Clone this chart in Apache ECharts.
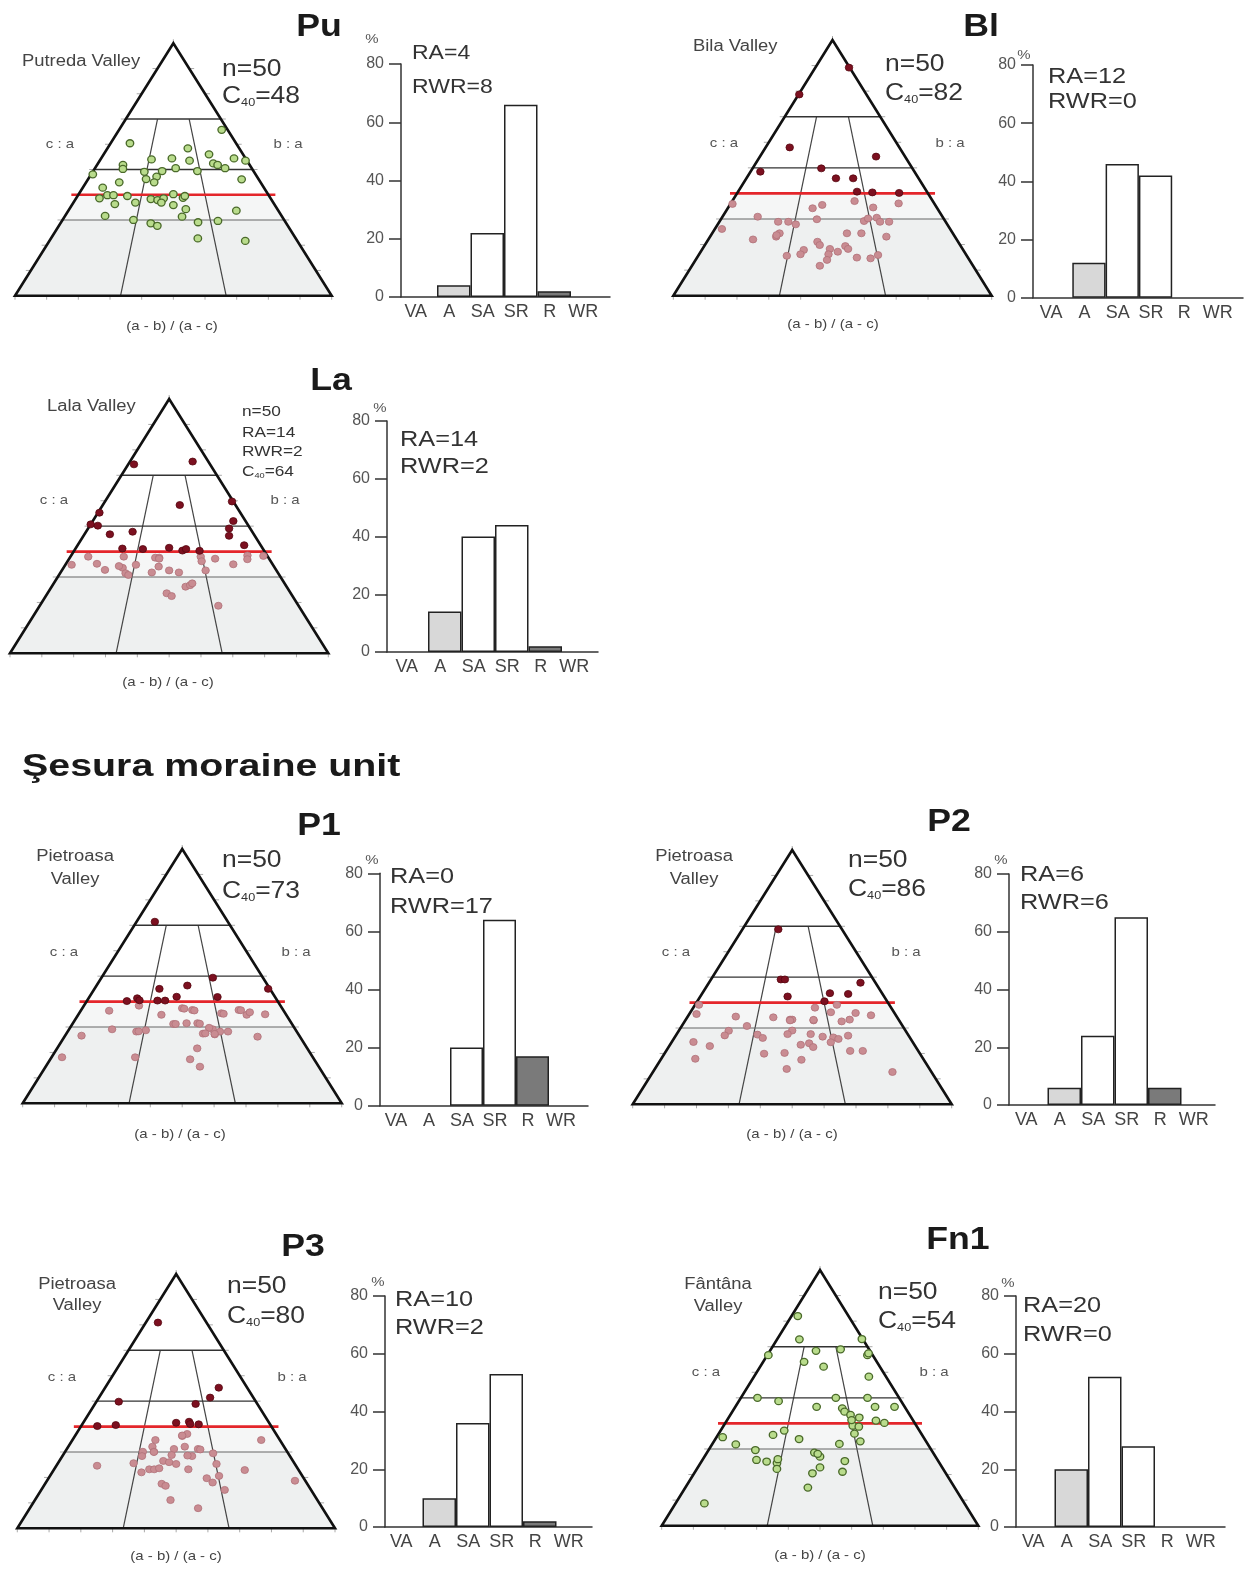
<!DOCTYPE html>
<html>
<head>
<meta charset="utf-8">
<script src="https://cdn.jsdelivr.net/npm/echarts@6/dist/echarts.min.js"></script>
<style>html,body{margin:0;padding:0;background:#fff}#c{width:1247px;height:1569px}</style>
</head>
<body>
<div id="c"></div>
<script>
// ---------- DATA ----------
const categories = ['VA', 'A', 'SA', 'SR', 'R', 'WR'];
const yTicks = [0, 20, 40, 60, 80];

const puBars = [0, 4, 22, 66, 2, 0];
const blBars = [0, 12, 46, 42, 0, 0];
const laBars = [0, 14, 40, 44, 2, 0];
const p1Bars = [0, 0, 20, 64, 17, 0];
const p2Bars = [0, 6, 24, 65, 6, 0];
const p3Bars = [0, 10, 36, 53, 2, 0];
const fn1Bars = [0, 20, 52, 28, 0, 0];

// clast points: [(a-b)/(a-c), c/a]
const puPoints = [[0.945,0.657],[0.154,0.604],[0.61,0.584],[0.756,0.56],[0.35,0.54],[0.49,0.544],[0.61,0.535],[0.765,0.524],[0.79,0.518],[0.92,0.544],[0.99,0.535],[0.17,0.518],[0.18,0.502],[0.515,0.505],[0.65,0.494],[0.83,0.505],[0.01,0.481],[0.32,0.491],[0.43,0.494],[0.40,0.472],[0.34,0.462],[0.39,0.449],[0.19,0.449],[0.90,0.461],[0.11,0.428],[0.154,0.398],[0.186,0.398],[0.12,0.386],[0.26,0.395],[0.21,0.363],[0.31,0.369],[0.385,0.383],[0.42,0.379],[0.45,0.386],[0.44,0.369],[0.50,0.402],[0.55,0.388],[0.50,0.359],[0.56,0.343],[0.80,0.337],[0.185,0.316],[0.54,0.313],[0.32,0.30],[0.61,0.291],[0.70,0.296],[0.40,0.287],[0.43,0.277],[0.60,0.227],[0.79,0.217],[0.56,0.395]];
const blPoints = [[0.98,0.892],[0.01,0.787],[0.18,0.58],[0.80,0.544],[0.06,0.485],[0.43,0.498],[0.52,0.459],[0.62,0.459],[0.63,0.407],[0.71,0.404],[0.85,0.402],[0.01,0.359],[0.405,0.342],[0.45,0.355],[0.61,0.37],[0.695,0.345],[0.825,0.361],[0.16,0.309],[0.26,0.289],[0.305,0.289],[0.34,0.279],[0.43,0.299],[0.64,0.292],[0.66,0.302],[0.70,0.305],[0.71,0.289],[0.75,0.289],[0.03,0.261],[0.18,0.22],[0.27,0.231],[0.28,0.244],[0.56,0.244],[0.62,0.244],[0.72,0.231],[0.44,0.211],[0.45,0.198],[0.49,0.183],[0.55,0.194],[0.56,0.183],[0.39,0.179],[0.38,0.162],[0.33,0.156],[0.485,0.162],[0.48,0.14],[0.455,0.117],[0.59,0.149],[0.64,0.146],[0.67,0.159],[0.52,0.172],[0.27,0.237]];
const laPoints = [[0.07,0.743],[0.80,0.754],[0.58,0.583],[0.99,0.597],[0.01,0.553],[0.0,0.507],[0.05,0.502],[0.92,0.52],[0.87,0.491],[0.85,0.462],[0.28,0.478],[0.15,0.468],[0.91,0.425],[0.25,0.412],[0.36,0.41],[0.50,0.415],[0.57,0.404],[0.59,0.41],[0.66,0.403],[0.09,0.38],[0.03,0.348],[0.15,0.352],[0.20,0.328],[0.27,0.38],[0.28,0.336],[0.30,0.315],[0.315,0.308],[0.34,0.348],[0.43,0.376],[0.45,0.376],[0.45,0.341],[0.42,0.318],[0.50,0.326],[0.545,0.318],[0.66,0.38],[0.66,0.362],[0.73,0.372],[0.67,0.326],[0.81,0.35],[0.90,0.385],[0.89,0.37],[0.98,0.383],[0.57,0.262],[0.59,0.268],[0.60,0.275],[0.49,0.236],[0.51,0.225],[0.69,0.187],[0.26,0.343],[0.45,0.372]];
const p1Points = [[0.20,0.714],[0.69,0.494],[0.37,0.45],[0.53,0.463],[0.99,0.45],[0.26,0.413],[0.21,0.402],[0.275,0.405],[0.37,0.404],[0.41,0.404],[0.47,0.419],[0.69,0.418],[0.28,0.384],[0.14,0.364],[0.40,0.348],[0.50,0.374],[0.55,0.367],[0.69,0.354],[0.78,0.367],[0.81,0.348],[0.83,0.358],[0.90,0.35],[0.46,0.312],[0.52,0.315],[0.57,0.315],[0.07,0.266],[0.19,0.291],[0.30,0.282],[0.34,0.287],[0.59,0.274],[0.635,0.291],[0.64,0.271],[0.665,0.282],[0.70,0.282],[0.82,0.262],[0.56,0.216],[0.53,0.173],[0.565,0.144],[0.04,0.181],[0.32,0.181],[0.62,0.297],[0.51,0.372],[0.56,0.365],[0.70,0.352],[0.47,0.312],[0.58,0.313],[0.60,0.275],[0.64,0.273],[0.31,0.283],[0.79,0.366]];
const p2Points = [[0.36,0.688],[0.43,0.491],[0.455,0.491],[0.91,0.478],[0.71,0.437],[0.81,0.434],[0.475,0.424],[0.67,0.405],[0.02,0.391],[0.035,0.355],[0.615,0.38],[0.73,0.391],[0.23,0.345],[0.41,0.342],[0.49,0.333],[0.50,0.333],[0.60,0.33],[0.69,0.362],[0.73,0.326],[0.77,0.333],[0.81,0.359],[0.88,0.35],[0.295,0.308],[0.22,0.289],[0.21,0.271],[0.35,0.274],[0.375,0.261],[0.50,0.29],[0.48,0.276],[0.58,0.276],[0.63,0.266],[0.675,0.263],[0.695,0.257],[0.66,0.244],[0.74,0.27],[0.09,0.245],[0.165,0.229],[0.13,0.179],[0.39,0.199],[0.47,0.202],[0.535,0.234],[0.57,0.24],[0.585,0.225],[0.535,0.175],[0.48,0.139],[0.73,0.21],[0.78,0.21],[0.86,0.127],[0.49,0.33],[0.60,0.332]];
const p3Points = [[0.20,0.809],[0.80,0.553],[0.72,0.514],[0.62,0.489],[0.14,0.498],[0.085,0.402],[0.18,0.406],[0.50,0.415],[0.57,0.419],[0.575,0.41],[0.62,0.409],[0.53,0.363],[0.555,0.371],[0.40,0.347],[0.91,0.347],[0.39,0.321],[0.49,0.312],[0.54,0.321],[0.60,0.312],[0.35,0.301],[0.40,0.301],[0.48,0.288],[0.57,0.284],[0.665,0.295],[0.35,0.284],[0.32,0.256],[0.445,0.265],[0.47,0.26],[0.50,0.253],[0.17,0.246],[0.67,0.253],[0.39,0.232],[0.41,0.232],[0.43,0.236],[0.36,0.22],[0.55,0.232],[0.78,0.229],[0.67,0.206],[0.62,0.197],[0.64,0.18],[0.68,0.151],[0.445,0.175],[0.46,0.167],[0.48,0.111],[0.575,0.079],[0.96,0.187],[0.53,0.365],[0.61,0.31],[0.40,0.30],[0.55,0.286]];
const fn1Points = [[0.11,0.82],[0.26,0.729],[0.99,0.73],[0.01,0.667],[0.46,0.684],[0.71,0.69],[0.95,0.667],[0.97,0.674],[0.36,0.641],[0.53,0.622],[0.87,0.583],[0.105,0.50],[0.245,0.487],[0.60,0.50],[0.80,0.50],[0.48,0.465],[0.63,0.459],[0.64,0.446],[0.67,0.433],[0.825,0.465],[0.94,0.465],[0.715,0.423],[0.80,0.411],[0.84,0.402],[0.67,0.391],[0.70,0.387],[0.32,0.372],[0.27,0.355],[0.03,0.346],[0.40,0.339],[0.67,0.36],[0.69,0.33],[0.11,0.318],[0.59,0.32],[0.21,0.296],[0.23,0.257],[0.275,0.251],[0.32,0.245],[0.32,0.26],[0.325,0.222],[0.475,0.286],[0.50,0.27],[0.605,0.253],[0.59,0.211],[0.50,0.228],[0.47,0.205],[0.455,0.149],[0.10,0.087],[0.49,0.281],[0.67,0.413]];

// ---------- LAYOUT ----------
const F = "'Liberation Sans', Arial, Helvetica, sans-serif";
const SX = 1.15; // the figure is horizontally stretched
const panels = [
  {title:'Pu', tp:[319,27], pts:puPoints, bars:puBars, green:true, ra:'RA=4', rwr:'RWR=8', c40:'48', raSize:20,
   valley:['Putreda Valley'], vx:22, vy:[62], vAlign:'left', nx:222, ny:[70,96.5],
   tri:{l:15,r:331.7,t:43.3,b:295.7}, ca:[60,144], ba:[288,144], lab:[172,326],
   bar:{axis:401,top:64,bottom:297,start:403.5,end:610,cw:33.5}, rax:412, ray:[53,87], pct:[372,39]},
  {title:'Bl', tp:[981,27], pts:blPoints, bars:blBars, green:false, ra:'RA=12', rwr:'RWR=0', c40:'82', raSize:22,
   valley:['Bila Valley'], vx:693, vy:[47], vAlign:'left', nx:885, ny:[65,94],
   tri:{l:673.3,r:991.7,t:40,b:295.7}, ca:[724,143], ba:[950,143], lab:[833,324],
   bar:{axis:1033,top:65,bottom:297.7,start:1039,end:1243,cw:33.3}, rax:1048, ray:[76.7,101.7], pct:[1024,55]},
  {title:'La', tp:[331,381], pts:laPoints, bars:laBars, green:false, ra:'RA=14', rwr:'RWR=2', c40:'64', small:true, raSize:22,
   valley:['Lala Valley'], vx:47, vy:[407], vAlign:'left', nx:242, ny:[412,433,452,472],
   tri:{l:10,r:328.3,t:399,b:653.3}, ca:[54,500], ba:[285,500], lab:[168,682],
   bar:{axis:387,top:421,bottom:652,start:394.5,end:598,cw:33.5}, rax:400, ray:[440,467], pct:[380,408]},
  {title:'P1', tp:[319,826], pts:p1Points, bars:p1Bars, green:false, ra:'RA=0', rwr:'RWR=17', c40:'73', raSize:22,
   valley:['Pietroasa','Valley'], vx:75, vy:[857,880], vAlign:'center', nx:222, ny:[861,892],
   tri:{l:22.7,r:341.7,t:849,b:1103.3}, ca:[64,952], ba:[296,952], lab:[180,1134],
   bar:{axis:380,top:873.3,bottom:1105.7,start:384,end:588,cw:33}, rax:390, ray:[877,907], pct:[372,860]},
  {title:'P2', tp:[949,822], pts:p2Points, bars:p2Bars, green:false, ra:'RA=6', rwr:'RWR=6', c40:'86', raSize:22,
   valley:['Pietroasa','Valley'], vx:694, vy:[857,880], vAlign:'center', nx:848, ny:[861,890],
   tri:{l:632.7,r:951.7,t:850,b:1104.3}, ca:[676,952], ba:[906,952], lab:[792,1134],
   bar:{axis:1009,top:874,bottom:1105,start:1014,end:1215,cw:33.5}, rax:1020, ray:[875,903], pct:[1001,860]},
  {title:'P3', tp:[303,1247], pts:p3Points, bars:p3Bars, green:false, ra:'RA=10', rwr:'RWR=2', c40:'80', raSize:22,
   valley:['Pietroasa','Valley'], vx:77, vy:[1285,1306], vAlign:'center', nx:227, ny:[1287,1317],
   tri:{l:17.3,r:335,t:1274,b:1528.3}, ca:[62,1377], ba:[292,1377], lab:[176,1556],
   bar:{axis:385,top:1296,bottom:1527,start:389,end:592,cw:33.5}, rax:395, ray:[1300,1328], pct:[378,1282]},
  {title:'Fn1', tp:[958,1240], pts:fn1Points, bars:fn1Bars, green:true, ra:'RA=20', rwr:'RWR=0', c40:'54', raSize:22,
   valley:['Fântâna','Valley'], vx:718, vy:[1285,1307], vAlign:'center', nx:878, ny:[1293,1322],
   tri:{l:661.7,r:978.3,t:1270,b:1525.7}, ca:[706,1372], ba:[934,1372], lab:[820,1555],
   bar:{axis:1016,top:1296,bottom:1527,start:1021,end:1225,cw:33.5}, rax:1023, ray:[1306,1335], pct:[1008,1283]}
];

// ---------- BUILD ----------
const toPlane = ([t, ca]) => [ca / 2 + t * (1 - ca), ca];

function triFrame(params, api) {
  const P = (t, ca) => api.coord([ca / 2 + t * (1 - ca), ca]);
  const poly = (pts, style) => ({ type: 'polygon', shape: { points: pts }, style });
  const line = (a, b, stroke, w) => ({ type: 'line', shape: { x1: a[0], y1: a[1], x2: b[0], y2: b[1] }, style: { stroke, lineWidth: w } });
  const ch = [];
  ch.push(poly([P(0, 0.4), P(1, 0.4), P(1, 0), P(0, 0)], { fill: '#f5f6f6' }));
  ch.push(poly([P(0, 0.3), P(1, 0.3), P(1, 0), P(0, 0)], { fill: '#eef0f0' }));
  for (let k = 0; k <= 10; k++) {
    const b = P(k / 10, 0); ch.push(line(b, [b[0], b[1] + 4], '#aaa', 1));
    if (k > 0 && k < 10) {
      const l = P(0, k / 10); ch.push(line(l, [l[0] - 5, l[1]], '#aaa', 1));
      const r = P(1, k / 10); ch.push(line(r, [r[0] + 5, r[1]], '#aaa', 1));
    }
  }
  const ap = P(0, 1); ch.push(line(ap, [ap[0], ap[1] - 4], '#aaa', 1));
  [1 / 3, 2 / 3].forEach(t => ch.push(line(P(t, 0.7), P(t, 0), '#444', 1.2)));
  ch.push(line(P(0, 0.7), P(1, 0.7), '#333', 1.4));
  ch.push(line(P(0, 0.5), P(1, 0.5), '#333', 1.4));
  ch.push(line(P(0, 0.3), P(1, 0.3), '#666', 1.2));
  const a = P(0, 0.4), b = P(1, 0.4);
  ch.push(line([a[0] - 7, a[1]], [b[0] + 7, b[1]], '#e4262b', 2.6));
  ch.push({ type: 'polygon', shape: { points: [P(0, 0), P(0, 1), P(1, 0)] }, style: { fill: 'none', stroke: '#111', lineWidth: 2.6, lineJoin: 'miter' } });
  return { type: 'group', children: ch };
}

const barFill = { VA: '#ffffff', A: '#d8d8d8', SA: '#ffffff', SR: '#ffffff', R: '#7a7a7a', WR: '#555555' };

const option = { animation: false, backgroundColor: '#ffffff', grid: [], xAxis: [], yAxis: [], series: [], graphic: { elements: [] } };
const G = option.graphic.elements;
const txt = (x, y, text, size, color, align, weight, sx) => G.push({ type: 'text', x, y, scaleX: sx || SX, silent: true,
  style: { text, fontSize: size, fontFamily: F, fontWeight: weight || 'normal', fill: color, align: align || 'left', verticalAlign: 'middle' } });
const c40 = (x, y, val, size, sub) => G.push({ type: 'text', x, y, scaleX: SX, silent: true,
  style: { text: '{m|C}{s|40}{m|=' + val + '}', align: 'left', verticalAlign: 'middle',
    rich: { m: { fontSize: size, fontFamily: F, fill: '#333', color: '#333' },
            s: { fontSize: sub, fontFamily: F, fill: '#333', color: '#333', verticalAlign: 'bottom' } } } });

panels.forEach((p, i) => {
  const gt = 2 * i, gb = 2 * i + 1;
  // triangle grid
  option.grid.push({ left: p.tri.l, top: p.tri.t, width: p.tri.r - p.tri.l, height: p.tri.b - p.tri.t });
  option.xAxis.push({ gridIndex: gt, type: 'value', min: 0, max: 1, show: false });
  option.yAxis.push({ gridIndex: gt, type: 'value', min: 0, max: 1, show: false });
  option.series.push({ type: 'custom', xAxisIndex: gt, yAxisIndex: gt, data: [[0.5, 0.5]], renderItem: triFrame, clip: false, silent: true, z: 1 });
  if (p.green) {
    option.series.push({ type: 'scatter', xAxisIndex: gt, yAxisIndex: gt, data: p.pts.map(toPlane), symbolSize: [7.5, 7], clip: false, z: 3,
      itemStyle: { color: '#b9dc8c', borderColor: '#4a6a2a', borderWidth: 1.3, opacity: 1 } });
  } else {
    option.series.push({ type: 'scatter', xAxisIndex: gt, yAxisIndex: gt, data: p.pts.filter(d => d[1] < 0.4).map(toPlane), symbolSize: [7.5, 7], clip: false, z: 3,
      itemStyle: { color: '#c98c92', borderColor: '#b07178', borderWidth: 0.8, opacity: 1 } });
    option.series.push({ type: 'scatter', xAxisIndex: gt, yAxisIndex: gt, data: p.pts.filter(d => d[1] >= 0.4).map(toPlane), symbolSize: [7.5, 7], clip: false, z: 4,
      itemStyle: { color: '#7c1020', borderColor: '#55060f', borderWidth: 0.8, opacity: 1 } });
  }
  // bar grid
  const B = p.bar;
  const xmin = -0.5 - (B.start - B.axis) / B.cw;
  const xmax = xmin + (B.end - B.axis) / B.cw;
  option.grid.push({ left: B.axis, top: B.top, width: B.end - B.axis, height: B.bottom - B.top });
  option.xAxis.push({ gridIndex: gb, type: 'value', min: xmin, max: xmax,
    axisLine: { show: true, onZero: false, lineStyle: { color: '#333', width: 1.5 } }, axisTick: { show: false }, splitLine: { show: false },
    axisLabel: { show: true, customValues: [0, 1, 2, 3, 4, 5], formatter: v => categories[Math.round(v)], fontSize: 18, color: '#444', fontFamily: F, margin: 6, padding: [0, 9, 0, 0] } });
  option.yAxis.push({ gridIndex: gb, type: 'value', min: 0, max: 80, interval: 20,
    axisLine: { show: true, onZero: false, lineStyle: { color: '#333', width: 1.5 } },
    axisTick: { show: true, length: 12, lineStyle: { color: '#333', width: 1.5 }, customValues: yTicks },
    splitLine: { show: false },
    axisLabel: { fontSize: 16, color: '#555', fontFamily: F, margin: 17, customValues: yTicks } });
  option.series.push({ type: 'bar', xAxisIndex: gb, yAxisIndex: gb, barWidth: B.cw, z: 2,
    data: p.bars.map((v, k) => ({ value: [k, v], itemStyle: { color: barFill[categories[k]] } })).filter(d => d.value[1] > 0),
    itemStyle: { borderColor: '#222', borderWidth: 1.5 } });

  // texts
  txt(p.tp[0], p.tp[1], p.title, 31, '#1a1a1a', 'center', 'bold');
  p.valley.forEach((v, k) => txt(p.vx, p.vy[k], v, 16, '#444', p.vAlign));
  if (p.small) {
    txt(p.nx, p.ny[0], 'n=50', 15, '#333');
    txt(p.nx, p.ny[1], p.ra, 15, '#333');
    txt(p.nx, p.ny[2], p.rwr, 15, '#333');
    c40(p.nx, p.ny[3], p.c40, 15, 8);
  } else {
    txt(p.nx, p.ny[0], 'n=50', 23, '#333');
    c40(p.nx, p.ny[1], p.c40, 23, 11);
  }
  txt(p.ca[0], p.ca[1], 'c : a', 13, '#555', 'center');
  txt(p.ba[0], p.ba[1], 'b : a', 13, '#555', 'center');
  txt(p.lab[0], p.lab[1], '(a - b) / (a - c)', 13, '#444', 'center');
  txt(p.rax, p.ray[0], p.ra, p.raSize, '#333');
  txt(p.rax, p.ray[1], p.rwr, p.raSize, '#333');
  txt(p.pct[0], p.pct[1], '%', 13, '#555', 'center');
});
txt(22, 767, 'Şesura moraine unit', 32, '#1a1a1a', 'left', 'bold', 1.23);

const chart = echarts.init(document.getElementById('c'), null, { renderer: 'canvas', width: 1247, height: 1569 });
chart.setOption(option);
</script>
</body>
</html>
